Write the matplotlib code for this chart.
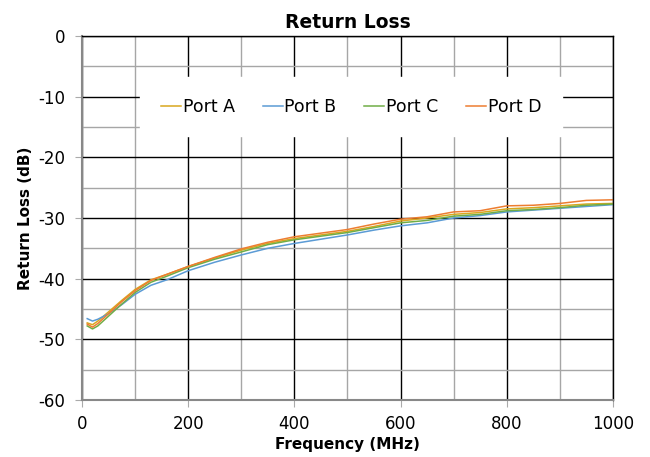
import matplotlib.pyplot as plt
from matplotlib.ticker import MultipleLocator

plt.rcParams['font.family'] = ['DejaVu Sans']
plt.rcParams['axes.unicode_minus'] = False

# Frequency points (MHz)
freq = [10, 20, 30, 50, 75, 100, 130, 160, 200, 250, 300, 350, 400, 450, 500,
        550, 600, 650, 700, 750, 800, 850, 900, 950, 1000]

# Return loss (dB) per port
port_a = [-47.3, -47.6, -47.0, -45.5, -43.6, -41.8, -40.2, -39.3, -38.0, -36.6, -35.3,
          -34.2, -33.4, -32.8, -32.2, -31.4, -30.5, -30.0, -29.4, -29.1, -28.5, -28.3,
          -28.0, -27.7, -27.6]
port_b = [-46.6, -47.0, -46.7, -45.8, -44.3, -42.6, -41.1, -40.2, -38.7, -37.3, -36.1,
          -35.0, -34.2, -33.5, -32.8, -32.0, -31.3, -30.8, -30.0, -29.6, -29.0, -28.7,
          -28.4, -28.1, -27.8]
port_c = [-47.8, -48.3, -47.8, -46.2, -44.2, -42.3, -40.6, -39.6, -38.2, -36.8, -35.6,
          -34.4, -33.6, -33.0, -32.4, -31.6, -30.8, -30.4, -29.7, -29.4, -28.8, -28.6,
          -28.3, -27.9, -27.7]
port_d = [-47.5, -48.0, -47.4, -45.8, -43.8, -42.0, -40.3, -39.3, -38.0, -36.5, -35.1,
          -34.0, -33.1, -32.5, -31.9, -31.0, -30.2, -29.8, -29.0, -28.8, -28.0, -27.9,
          -27.6, -27.1, -27.0]

series = [('Port A', port_a, '#D9A71E'),
          ('Port B', port_b, '#5B9BD5'),
          ('Port C', port_c, '#70AD47'),
          ('Port D', port_d, '#ED7D31')]

fig = plt.figure(figsize=(6.5, 4.57), dpi=100)
ax = fig.add_axes([0.126, 0.125, 0.817, 0.796])

for name, vals, col in series:
    ax.plot(freq, vals, color=col, lw=1.1, label=name)

ax.set_xlim(0, 1000)
ax.set_ylim(-60, 0)
ax.xaxis.set_major_locator(MultipleLocator(200))
ax.xaxis.set_minor_locator(MultipleLocator(100))
ax.yaxis.set_major_locator(MultipleLocator(10))
ax.yaxis.set_minor_locator(MultipleLocator(5))

# Grid: black majors, grey minors
ax.grid(which='major', color='black', lw=1.0)
ax.grid(which='minor', color='#a6a6a6', lw=1.0)
ax.set_axisbelow(True)

for s in ['top', 'right']:
    ax.spines[s].set_color('black')
    ax.spines[s].set_linewidth(1.0)
for s in ['left', 'bottom']:
    ax.spines[s].set_color('#888888')
    ax.spines[s].set_linewidth(1.5)

ax.tick_params(which='major', length=5, color='#aaaaaa', labelsize=12)
ax.tick_params(axis='y', pad=7)
ax.tick_params(axis='x', pad=6)
ax.tick_params(which='minor', length=0)

ax.set_title('Return Loss', fontsize=13.5, fontweight='bold', pad=6)
ax.set_xlabel('Frequency (MHz)', fontsize=11, fontweight='bold', labelpad=3)
ax.set_ylabel('Return Loss (dB)', fontsize=11, fontweight='bold', labelpad=4)

leg = ax.legend(loc='upper center', bbox_to_anchor=(0.507, 0.912), ncol=4,
                frameon=True, fancybox=False, framealpha=1.0, edgecolor='white',
                fontsize=12.5, handlelength=1.15, handletextpad=0.1, columnspacing=1.6,
                borderpad=1.2)

fig.savefig('out.png', dpi=100)
